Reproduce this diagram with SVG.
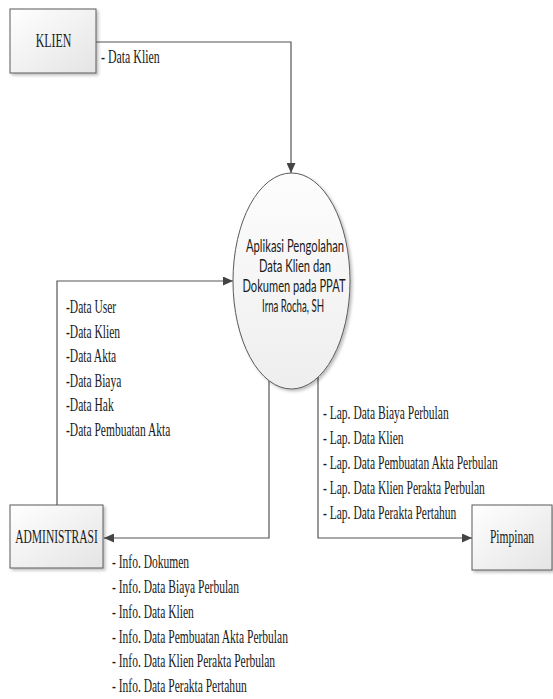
<svg xmlns="http://www.w3.org/2000/svg" width="553" height="699" viewBox="0 0 553 699">
<style>
.box{fill:url(#gBox);stroke:#5a5a5a;stroke-width:1;filter:url(#sh)}
.proc{fill:url(#gProc);stroke:#5a5a5a;stroke-width:1;filter:url(#sh)}
.t{font-family:"Liberation Serif","Times New Roman",serif;font-size:18px;fill:#1a1a1a}
.c{font-family:Lato,"Noto Sans",sans-serif;font-size:17px;fill:#1a1a1a;text-anchor:middle}
.ln{fill:none;stroke:#555;stroke-width:1.2}
</style>
<defs>
<linearGradient id="gBox" x1="0" y1="0" x2="1" y2="1">
<stop offset="0" stop-color="#ffffff"/><stop offset="1" stop-color="#e4e4e4"/>
</linearGradient>
<linearGradient id="gProc" x1="0" y1="0" x2="0" y2="1">
<stop offset="0" stop-color="#fdfdfd"/><stop offset="1" stop-color="#eeeeee"/>
</linearGradient>
<filter id="sh" x="-20%" y="-20%" width="140%" height="140%">
<feDropShadow dx="2" dy="2" stdDeviation="1.5" flood-color="#000" flood-opacity="0.25"/>
</filter>
<marker id="arr" markerUnits="userSpaceOnUse" markerWidth="10" markerHeight="9" viewBox="0 0 10 9" refX="10" refY="4.5" orient="auto">
<path d="M0,0 L10,4.5 L0,9 z" fill="#444"/>
</marker>
</defs>

<g id="connectors">
<path class="ln" d="M96 42 H291 V173" marker-end="url(#arr)"/>
<path class="ln" d="M57 505 V281 H233" marker-end="url(#arr)"/>
<path class="ln" d="M269 381 V538 H104" marker-end="url(#arr)"/>
<path class="ln" d="M318 377 V538 H472" marker-end="url(#arr)"/>
</g>

<g id="klien">
<rect class="box" x="10" y="9" width="86" height="64"/>
<text class="t" text-anchor="middle" transform="translate(53.5,47) scale(0.66,1)">KLIEN</text>
</g>

<g id="proses">
<ellipse class="proc" cx="291.5" cy="281" rx="58.5" ry="108"/>
<text class="c" x="295" y="252" textLength="98" lengthAdjust="spacingAndGlyphs">Aplikasi Pengolahan</text>
<text class="c" x="295" y="272" textLength="72" lengthAdjust="spacingAndGlyphs">Data Klien dan</text>
<text class="c" x="294" y="292" textLength="103" lengthAdjust="spacingAndGlyphs">Dokumen pada PPAT</text>
<text class="c" x="293" y="312" textLength="62" lengthAdjust="spacingAndGlyphs">Irna Rocha, SH</text>
</g>

<g id="administrasi">
<rect class="box" x="10" y="505" width="93" height="63"/>
<text class="t" text-anchor="middle" transform="translate(56.5,543) scale(0.64,1)">ADMINISTRASI</text>
</g>

<g id="pimpinan">
<rect class="box" x="472" y="505" width="80" height="65"/>
<text class="t" text-anchor="middle" transform="translate(512,543) scale(0.64,1)">Pimpinan</text>
</g>

<g id="label-klien">
<text class="t" transform="translate(101,63) scale(0.66,1)">- Data Klien</text>
</g>

<g id="label-admin-in">
<text class="t" transform="translate(66,313) scale(0.64,1)">-Data User</text>
<text class="t" transform="translate(66,338) scale(0.64,1)">-Data Klien</text>
<text class="t" transform="translate(66,362) scale(0.64,1)">-Data Akta</text>
<text class="t" transform="translate(66,387) scale(0.64,1)">-Data Biaya</text>
<text class="t" transform="translate(66,411) scale(0.64,1)">-Data Hak</text>
<text class="t" transform="translate(66,436) scale(0.64,1)">-Data Pembuatan Akta</text>
</g>

<g id="label-pimpinan">
<text class="t" transform="translate(323,419) scale(0.64,1)">- Lap. Data Biaya Perbulan</text>
<text class="t" transform="translate(323,444) scale(0.64,1)">- Lap. Data Klien</text>
<text class="t" transform="translate(323,469) scale(0.64,1)">- Lap. Data Pembuatan Akta Perbulan</text>
<text class="t" transform="translate(323,494) scale(0.64,1)">- Lap. Data Klien Perakta Perbulan</text>
<text class="t" transform="translate(323,519) scale(0.64,1)">- Lap. Data Perakta Pertahun</text>
</g>

<g id="label-admin-out">
<text class="t" transform="translate(112,568) scale(0.64,1)">- Info. Dokumen</text>
<text class="t" transform="translate(112,593) scale(0.64,1)">- Info. Data Biaya Perbulan</text>
<text class="t" transform="translate(112,618) scale(0.64,1)">- Info. Data Klien</text>
<text class="t" transform="translate(112,643) scale(0.64,1)">- Info. Data Pembuatan Akta Perbulan</text>
<text class="t" transform="translate(112,667) scale(0.64,1)">- Info. Data Klien Perakta Perbulan</text>
<text class="t" transform="translate(112,692) scale(0.64,1)">- Info. Data Perakta Pertahun</text>
</g>
</svg>
